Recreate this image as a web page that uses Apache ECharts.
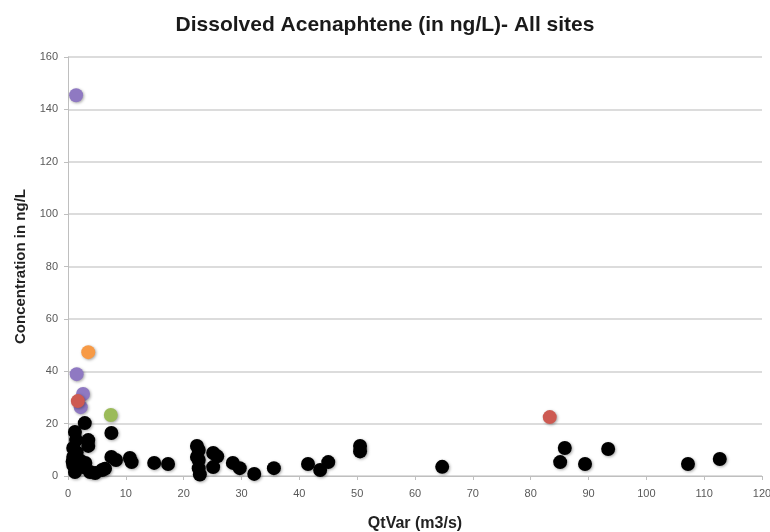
<!DOCTYPE html>
<html>
<head>
<meta charset="utf-8">
<script src="https://cdn.jsdelivr.net/npm/echarts@6/dist/echarts.min.js"></script>
<style>html,body{margin:0;padding:0;background:#fff;}#c{width:770px;height:532px;}</style>
</head>
<body>
<div id="c"></div>
<script>
// Data
var title = 'Dissolved Acenaphtene (in ng/L)- All sites';
var xName = 'QtVar (m3/s)';
var yName = 'Concentration in ng/L';

var blackX = [2.9, 1.2, 1.4, 3.5, 3.5, 0.9, 0.9, 0.9, 1.2, 2.6, 3.8, 4.7, 5.9, 6.4, 1.5, 0.8, 2.0, 3.0, 7.5, 7.5, 8.3,
              10.7, 11.0, 14.9, 17.3, 22.3, 22.6, 22.3, 22.6, 22.6, 22.8, 25.1, 25.8, 25.1, 28.5, 29.7, 32.2, 35.6,
              41.5, 43.6, 45.0, 50.5, 50.5, 64.7, 85.1, 85.9, 89.4, 93.4, 107.2, 112.7];
var blackY = [20.2, 16.8, 13.7, 13.7, 11.5, 10.7, 7.3, 4.2, 1.5, 3.4, 1.5, 1.1, 2.3, 2.8, 9.0, 5.5, 6.0, 5.0, 16.4, 7.3, 6.1,
              6.9, 5.3, 5.0, 4.6, 11.5, 9.9, 7.3, 6.1, 3.0, 0.6, 8.8, 7.5, 3.4, 5.0, 3.0, 0.8, 3.0,
              4.6, 2.3, 5.3, 11.5, 9.4, 3.5, 5.3, 10.7, 4.6, 10.3, 4.6, 6.5];
var purpleX = [1.4, 1.5, 2.6, 2.2];
var purpleY = [145.4, 38.9, 31.3, 26.3];
var orangeX = [3.5];
var orangeY = [47.3];
var redX = [1.7, 83.3];
var redY = [28.6, 22.5];
var greenX = [7.4];
var greenY = [23.3];

var xTicks = {min: 0, max: 120, interval: 10};
var yTicks = {min: 0, max: 160, interval: 20};

function pairs(xs, ys) { return xs.map(function (x, i) { return [x, ys[i]]; }); }

var font = 'Liberation Sans, Arial, sans-serif';
function mk(name, xs, ys, color) {
  return {
    name: name, type: 'scatter', symbolSize: 14, data: pairs(xs, ys),
    itemStyle: {color: color, opacity: 1, shadowColor: 'rgba(0,0,0,0.35)', shadowBlur: 3, shadowOffsetX: 1, shadowOffsetY: 1},
    emphasis: {disabled: true}
  };
}

var chart = echarts.init(document.getElementById('c'), null, {renderer: 'canvas'});
chart.setOption({
  animation: false,
  backgroundColor: '#ffffff',
  title: {text: title, left: 'center', top: 10,
    textStyle: {fontFamily: font, fontSize: 21, fontWeight: 'bold', color: '#1a1a1a'}},
  grid: {left: 68, right: 8, top: 57, bottom: 56, containLabel: false, outerBoundsMode: 'none'},
  xAxis: {
    type: 'value', min: xTicks.min, max: xTicks.max, interval: xTicks.interval,
    name: xName, nameLocation: 'middle', nameGap: 40,
    nameTextStyle: {fontFamily: font, fontSize: 16, fontWeight: 'bold', color: '#222'},
    axisLine: {show: true, lineStyle: {color: '#bfbfbf', width: 1}},
    axisTick: {show: true, length: 4, lineStyle: {color: '#bfbfbf'}},
    axisLabel: {fontFamily: font, fontSize: 11, color: '#595959', margin: 12},
    splitLine: {show: false}
  },
  yAxis: {
    type: 'value', min: yTicks.min, max: yTicks.max, interval: yTicks.interval,
    name: yName, nameLocation: 'middle', nameGap: 40,
    nameTextStyle: {fontFamily: font, fontSize: 15, fontWeight: 'bold', color: '#222'},
    axisLine: {show: true, lineStyle: {color: '#bfbfbf', width: 1}},
    axisTick: {show: true, length: 4, lineStyle: {color: '#bfbfbf'}},
    axisLabel: {fontFamily: font, fontSize: 11, color: '#595959', margin: 10},
    splitLine: {show: true, lineStyle: {color: '#d0d0d0', width: 1.5}}
  },
  series: [
    mk('black', blackX, blackY, '#000000'),
    mk('purple', purpleX, purpleY, '#8f79c2'),
    mk('orange', orangeX, orangeY, '#f79a46'),
    mk('red', redX, redY, '#cd5a52'),
    mk('green', greenX, greenY, '#9bbb59')
  ]
});
</script>
</body>
</html>
